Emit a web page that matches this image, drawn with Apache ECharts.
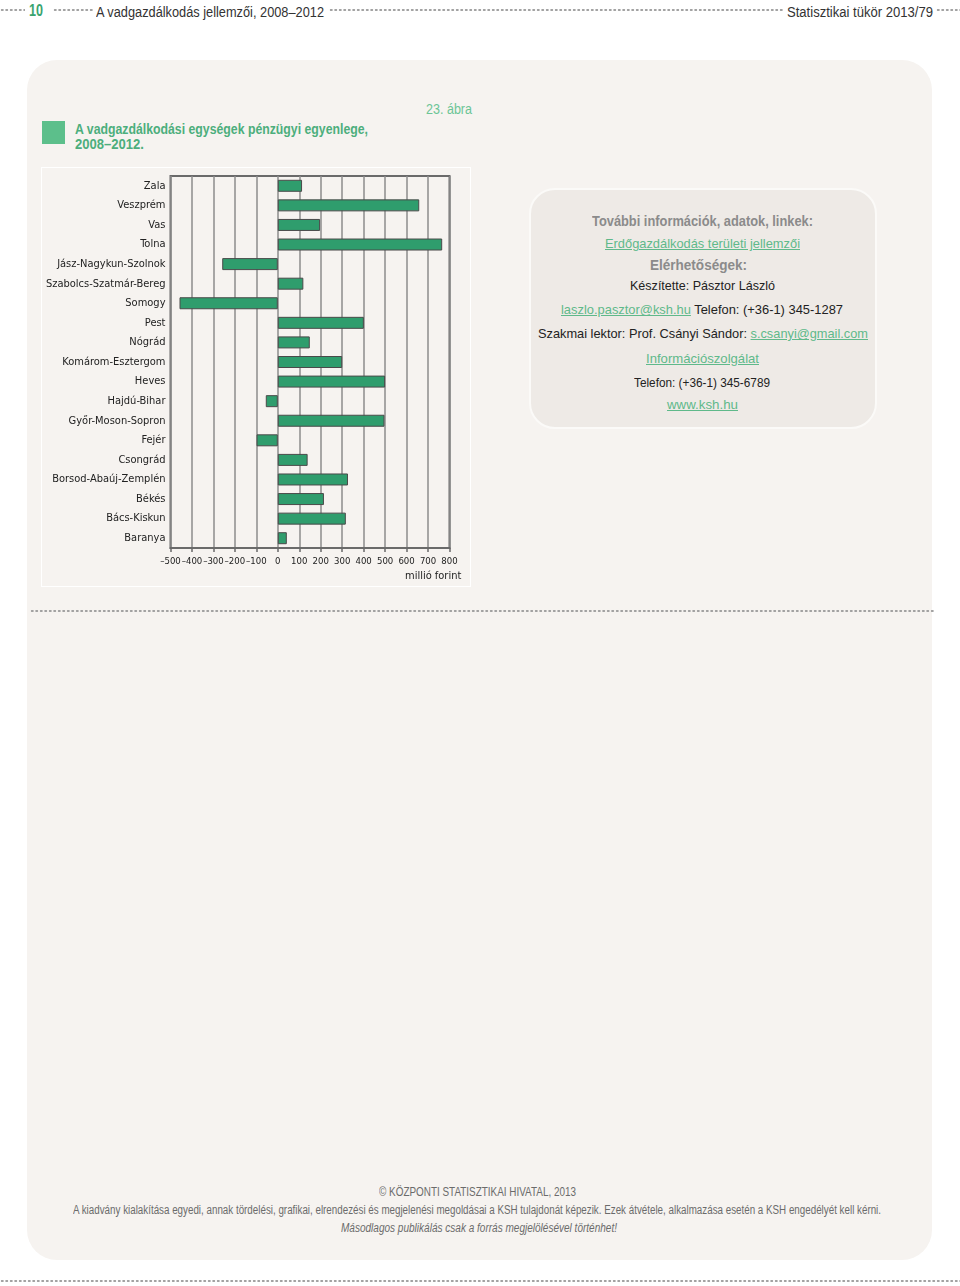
<!DOCTYPE html>
<html><head><meta charset="utf-8">
<script src="https://cdn.jsdelivr.net/npm/echarts@6/dist/echarts.min.js"></script>
<style>
html,body{margin:0;padding:0;background:#fff;}
body{width:960px;height:1286px;position:relative;overflow:hidden;font-family:"Liberation Sans",Arial,sans-serif;color:#222;}
.t{position:absolute;white-space:nowrap;display:inline-block;transform-origin:0 50%;}
.dots{position:absolute;height:4px;background-image:radial-gradient(circle,#9f9f9f 1px,transparent 1.3px);background-size:4.5px 4px;background-repeat:repeat-x;}
#panel{position:absolute;left:27px;top:60px;width:905px;height:1200px;background:#f6f3f0;border-radius:30px;}
#chartbox{position:absolute;left:41px;top:167px;width:428px;height:418px;border:1px solid #fff;}
#chart{position:absolute;left:41px;top:167px;width:430px;height:420px;}
#info{position:absolute;left:529px;top:188px;width:344px;height:237px;background:#eeeae6;border:2px solid #fbfaf8;border-radius:26px;}
.lnk{color:#5fb98a;text-decoration:underline;}
.hd{color:#8b8b8b;font-weight:bold;}
.ft{color:#6b6b6b;}
</style></head>
<body>
<div class="dots" style="left:0;top:8px;width:25px;"></div>
<div class="dots" style="left:53px;top:8px;width:40px;"></div>
<div class="dots" style="left:329px;top:8px;width:454px;"></div>
<div class="dots" style="left:936px;top:8px;width:24px;"></div>
<div class="t" data-l="29" data-w="14" data-cy="10.5" data-fs="17" style="font-weight:bold;color:#3aa46f;">10</div>
<div class="t" data-l="96" data-w="228" data-cy="12" data-fs="14" style="color:#333;">A vadgazdálkodás jellemzői, 2008–2012</div>
<div class="t" data-l="787" data-w="146" data-cy="12" data-fs="14" style="color:#333;">Statisztikai tükör 2013/79</div>

<div id="panel"></div>
<div class="t" data-l="426" data-w="46" data-cy="109" data-fs="14" style="color:#6cc596;">23. ábra</div>
<div style="position:absolute;left:42px;top:121px;width:23px;height:23px;background:#5cbf8b;"></div>
<div class="t" data-l="74.5" data-w="293" data-cy="128" data-fs="15" style="font-weight:bold;color:#4cae7c;">A vadgazdálkodási egységek pénzügyi egyenlege,</div>
<div class="t" data-l="74.5" data-w="69" data-cy="143.5" data-fs="15" style="font-weight:bold;color:#4cae7c;">2008–2012.</div>

<div id="chartbox"></div>
<div id="chart"></div>

<div id="info"></div>
<div class="t hd" data-cx="702" data-w="221" data-cy="220.5" data-fs="15">További információk, adatok, linkek:</div>
<div class="t lnk" data-cx="702" data-w="195" data-cy="244" data-fs="13.5">Erdőgazdálkodás területi jellemzői</div>
<div class="t hd" data-cx="698" data-w="97" data-cy="265" data-fs="14">Elérhetőségek:</div>
<div class="t" data-cx="702" data-w="145" data-cy="286" data-fs="13.5">Készítette: Pásztor László</div>
<div class="t" data-cx="702" data-w="282" data-cy="310" data-fs="13.5"><span class="lnk">laszlo.pasztor@ksh.hu</span> Telefon: (+36-1) 345-1287</div>
<div class="t" data-cx="703" data-w="330" data-cy="334" data-fs="13.5">Szakmai lektor: Prof. Csányi Sándor: <span class="lnk">s.csanyi@gmail.com</span></div>
<div class="t lnk" data-cx="702" data-w="113" data-cy="358.5" data-fs="13.5">Információszolgálat</div>
<div class="t" data-cx="702" data-w="136" data-cy="382.5" data-fs="13.5">Telefon: (+36-1) 345-6789</div>
<div class="t lnk" data-cx="702" data-w="71" data-cy="405" data-fs="13.5">www.ksh.hu</div>

<div class="dots" style="left:30px;top:609px;width:904px;"></div>

<div class="t ft" data-cx="477.5" data-w="197" data-cy="1192" data-fs="12">© KÖZPONTI STATISZTIKAI HIVATAL, 2013</div>
<div class="t ft" data-cx="477" data-w="808" data-cy="1210" data-fs="12">A kiadvány kialakítása egyedi, annak tördelési, grafikai, elrendezési és megjelenési megoldásai a KSH tulajdonát képezik. Ezek átvétele, alkalmazása esetén a KSH engedélyét kell kérni.</div>
<div class="t ft" data-cx="479" data-w="276" data-cy="1228" data-fs="12" style="font-style:italic;">Másodlagos publikálás csak a forrás megjelölésével történhet!</div>
<div class="dots" style="left:0;top:1279px;width:960px;"></div>

<script>
// fit HTML texts (condensed look)
document.querySelectorAll('.t').forEach(function(el){
  const fs=parseFloat(el.dataset.fs), w=parseFloat(el.dataset.w), cy=parseFloat(el.dataset.cy);
  el.style.fontSize=fs+'px'; el.style.lineHeight=fs+'px';
  const nat=el.getBoundingClientRect().width;
  const left = el.dataset.l!==undefined ? parseFloat(el.dataset.l) : parseFloat(el.dataset.cx)-w/2;
  el.style.left=left+'px';
  el.style.top=(cy-0.49*fs)+'px';
  el.style.transform='scaleX('+(w/nat)+')';
});

const counties = ["Zala","Veszprém","Vas","Tolna","Jász-Nagykun-Szolnok","Szabolcs-Szatmár-Bereg","Somogy","Pest","Nógrád","Komárom-Esztergom","Heves","Hajdú-Bihar","Győr-Moson-Sopron","Fejér","Csongrád","Borsod-Abaúj-Zemplén","Békés","Bács-Kiskun","Baranya"];
const balance = [113,659,197,766,-259,119,-458,401,149,300,500,-56,497,-99,139,327,215,317,42];
const tickValues = [-500,-400,-300,-200,-100,0,100,200,300,400,500,600,700,800];
const tickLabels = ["–500","–400","–300","–200","–100","0","100","200","300","400","500","600","700","800"];
const unitLabel = "millió forint";

const chart = echarts.init(document.getElementById('chart'), null, {renderer:'canvas'});
const FONT = '"DejaVu Sans Condensed","Liberation Sans",sans-serif';
chart.setOption({
  backgroundColor:'transparent',
  animation:false,
  grid:{left:129.5,right:21.5,top:9,bottom:39,containLabel:false,outerBoundsMode:'none',
    show:true,borderColor:'#6a6a6a',borderWidth:2,backgroundColor:'transparent'},
  xAxis:{type:'value',min:tickValues[0],max:tickValues[tickValues.length-1],interval:100,
    axisLine:{show:true,lineStyle:{color:'#6a6a6a',width:2}},
    axisTick:{show:true,length:4,lineStyle:{color:'#6a6a6a',width:1.5}},
    splitLine:{show:true,lineStyle:{color:'#8c8c8c',width:1.5}},
    axisLabel:{color:'#222',fontSize:9.5,fontFamily:FONT,margin:9,showMinLabel:true,showMaxLabel:true,hideOverlap:false,
      formatter:function(v){const i=tickValues.indexOf(v);return i>=0?tickLabels[i]:'';}}
  },
  yAxis:{type:'category',data:counties,inverse:true,
    axisLine:{show:false},axisTick:{show:false},splitLine:{show:false},
    axisLabel:{color:'#222',fontSize:11,fontFamily:FONT,margin:5}
  },
  series:[{type:'bar',data:balance,barWidth:12,
    itemStyle:{color:'#2f9d6d',borderColor:'#4a4a4a',borderWidth:1}}],
  graphic:[{type:'text',left:364,top:404,style:{text:unitLabel,fill:'#222',font:'11px '+FONT}}]
});
</script>
</body></html>
